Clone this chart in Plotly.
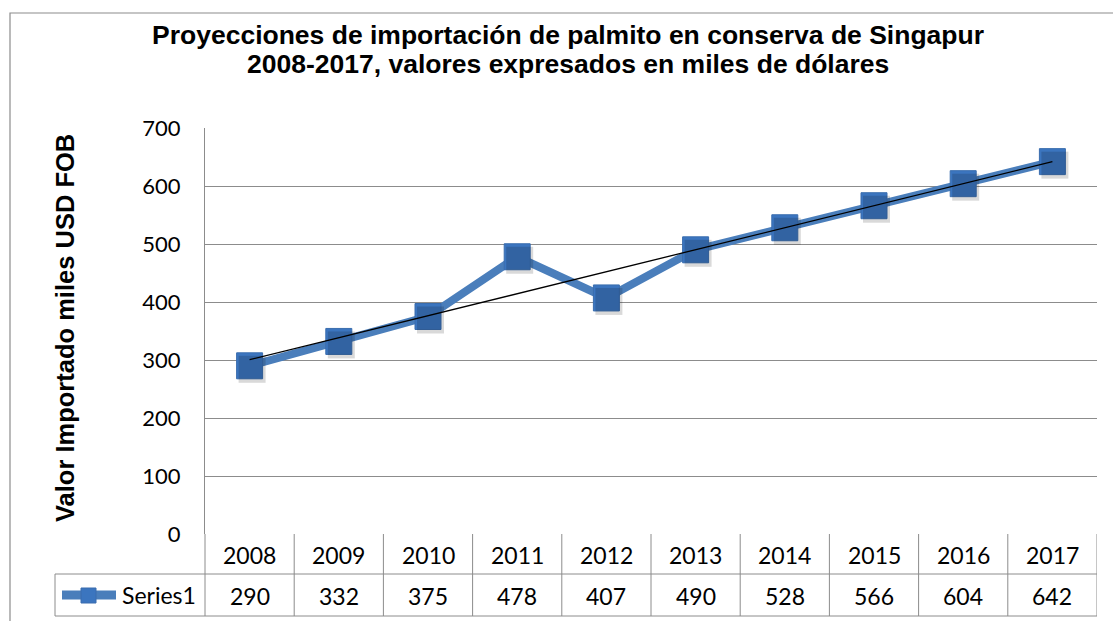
import numpy as np
import plotly.graph_objects as go

years = ["2008", "2009", "2010", "2011", "2012", "2013", "2014", "2015", "2016", "2017"]
values = [290, 332, 375, 478, 407, 490, 528, 566, 604, 642]
series_name = "Series1"
title_lines = ["Proyecciones de importación de palmito en conserva de Singapur",
               "2008-2017, valores expresados en miles de dólares"]
y_title = "Valor Importado miles USD FOB"
y_ticks = [0, 100, 200, 300, 400, 500, 600, 700]

W, H = 1113, 621
L, R, T, B = 205, 16, 128, 87
PW, PH = W - L - R, H - T - B

def px_x(px):
    return (px - L) / PW

def px_y(py):
    return (H - B - py) / PH

xs = list(range(len(years)))
slope, intercept = np.polyfit(xs, values, 1)
trend = [slope * x + intercept for x in xs]

LINE_BLUE = "#4A7EBB"
MARK_BLUE = "#3B75BF"
MARK_EDGE = "#3A6DAE"
GRID = "#8C8C8C"
TXT = dict(family="Lato", size=23, color="black")

# shadow axes: same scale shifted by a few pixels
sx = 2.5 / PW * 10
sy = 3.5 / PH * 700

fig = go.Figure()
fig.add_trace(go.Scatter(
    x=xs, y=values, mode="markers", xaxis="x2", yaxis="y2",
    marker=dict(symbol="square", size=27, color="rgba(0,0,0,0.15)", line=dict(width=0)),
    showlegend=False, hoverinfo="skip"))
fig.add_trace(go.Scatter(
    x=xs, y=values, mode="lines+markers", name=series_name,
    line=dict(color=LINE_BLUE, width=8),
    marker=dict(symbol="square", size=26, color=MARK_BLUE,
                line=dict(color=MARK_EDGE, width=1)),
    showlegend=False, hoverinfo="skip"))
fig.add_trace(go.Scatter(
    x=[xs[0], xs[-1]], y=[trend[0], trend[-1]], mode="lines",
    line=dict(color="black", width=1.3), showlegend=False, hoverinfo="skip"))

shapes = []
annotations = []
row1_top, row1_bot, row2_bot = 534, 574, 616
ln = dict(color=GRID, width=1)
shapes.append(dict(type="line", xref="x", yref="paper", x0=-0.5, x1=len(years) - 0.5,
                   y0=px_y(row1_bot), y1=px_y(row1_bot), line=ln))
shapes.append(dict(type="line", xref="paper", yref="paper", x0=px_x(55), x1=px_x(L),
                   y0=px_y(row1_bot), y1=px_y(row1_bot), line=ln))
shapes.append(dict(type="line", xref="paper", yref="paper", x0=px_x(55), x1=1,
                   y0=px_y(row2_bot), y1=px_y(row2_bot), line=ln))
shapes.append(dict(type="line", xref="paper", yref="paper", x0=px_x(55), x1=px_x(55),
                   y0=px_y(row1_bot), y1=px_y(row2_bot), line=ln))
shapes.append(dict(type="line", xref="paper", yref="paper", x0=0, x1=0,
                   y0=0, y1=px_y(row2_bot), line=ln))
for i in range(len(years)):
    shapes.append(dict(type="line", xref="x", yref="paper", x0=i + 0.5, x1=i + 0.5,
                       y0=0, y1=px_y(row2_bot), line=ln))
    annotations.append(dict(x=i, y=px_y((row1_top + row1_bot) / 2 + 1), xref="x", yref="paper",
                            xanchor="center", yanchor="middle",
                            text=years[i], showarrow=False, font=TXT))
    annotations.append(dict(x=i, y=px_y((row1_bot + row2_bot) / 2 + 1), xref="x", yref="paper",
                            xanchor="center", yanchor="middle",
                            text=str(values[i]), showarrow=False, font=TXT))
# legend key in table
ly = px_y(595)
shapes.append(dict(type="line", xref="paper", yref="paper", x0=px_x(62), x1=px_x(116),
                   y0=ly, y1=ly, line=dict(color=LINE_BLUE, width=9)))
shapes.append(dict(type="rect", xref="paper", yref="paper", x0=px_x(81), x1=px_x(96),
                   y0=px_y(603), y1=px_y(588), fillcolor=MARK_BLUE,
                   line=dict(color=MARK_EDGE, width=1)))
annotations.append(dict(x=px_x(120), y=ly, xref="paper", yref="paper",
                        xanchor="left", yanchor="middle",
                        text=series_name, showarrow=False, font=TXT))
# outer frame
shapes.append(dict(type="rect", xref="paper", yref="paper", x0=px_x(10), x1=px_x(W + 20),
                   y0=px_y(H + 20), y1=px_y(13), line=dict(color=GRID, width=1.2),
                   fillcolor="rgba(0,0,0,0)", layer="below"))
# titles (one annotation per line)
for t, cy in zip(title_lines, [35, 64]):
    annotations.append(dict(x=px_x(568), y=px_y(cy), xref="paper", yref="paper",
                            xanchor="center", yanchor="middle",
                            text="<b>" + t + "</b>", showarrow=False,
                            font=dict(family="Liberation Sans", size=26.5, color="black")))
annotations.append(dict(x=px_x(65), y=px_y(328), xref="paper", yref="paper",
                        xanchor="center", yanchor="middle",
                        text="<b>" + y_title + "</b>", textangle=-90, showarrow=False,
                        font=dict(family="Liberation Sans", size=25.5, color="black")))

fig.update_layout(
    width=W, height=H, margin=dict(l=L, r=R, t=T, b=B, pad=0),
    paper_bgcolor="white", plot_bgcolor="white",
    shapes=shapes, annotations=annotations,
    xaxis=dict(range=[-0.5, len(years) - 0.5], showticklabels=False, showgrid=False,
               zeroline=False, showline=False, ticks=""),
    yaxis=dict(range=[0, 700], tickvals=y_ticks, showgrid=True, gridcolor=GRID, gridwidth=1,
               zeroline=False, showline=True, linecolor=GRID, linewidth=1, ticks="",
               ticklabelstandoff=19,
               tickfont=dict(family="Lato", size=22, color="black")),
    xaxis2=dict(range=[-0.5 - sx, len(years) - 0.5 - sx], overlaying="x", visible=False),
    yaxis2=dict(range=[0 + sy, 700 + sy], overlaying="y", visible=False),
)
fig.write_html("out.html")
